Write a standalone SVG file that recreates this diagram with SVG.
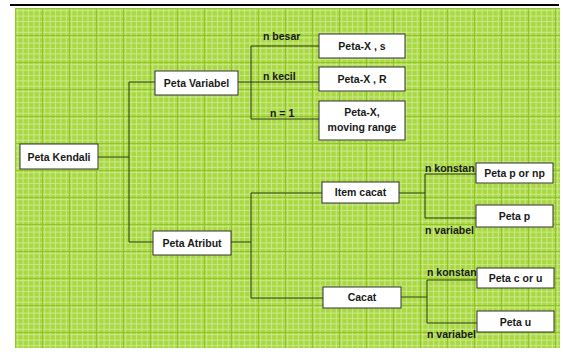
<svg xmlns="http://www.w3.org/2000/svg" width="563" height="354" viewBox="0 0 563 354">
<defs>
<pattern id="grid" x="15" y="8" width="27" height="27" patternUnits="userSpaceOnUse">
<rect width="27" height="27" fill="#a9d840"/>
<path d="M2.7 0V27M8.1 0V27M13.5 0V27M18.9 0V27M24.3 0V27M0 2.7H27M0 8.1H27M0 13.5H27M0 18.9H27M0 24.3H27" stroke="#c6e784" stroke-width="1.2" fill="none"/>
<path d="M0.5 0V27M0 0.5H27" stroke="#92c52a" stroke-width="1" fill="none"/>
</pattern>
<style>
.box{fill:#ffffff;stroke:#333333;stroke-width:1}
.t{font-family:"Liberation Sans",Arial,sans-serif;font-size:10.5px;font-weight:bold;fill:#1a1a1a;text-anchor:middle}
.l{font-family:"Liberation Sans",Arial,sans-serif;font-size:10.5px;font-weight:bold;fill:#1a1a1a}
.c{fill:none;stroke:#2a3a10;stroke-width:1}
</style>
</defs>
<rect x="0" y="0" width="563" height="354" fill="#ffffff"/>
<rect x="15" y="8" width="545" height="340" fill="url(#grid)"/>
<line x1="10" y1="5" x2="559" y2="5" stroke="#000000" stroke-width="2"/>
<g id="connectors">
<path class="c" d="M98 157H129M129 82V242M129 82H155M129 242H153"/>
<path class="c" d="M238 82H251M251 46V119M251 46H319M251 82H319M251 119H319"/>
<path class="c" d="M231 242H251M251 193V298M251 193H322M251 298H323"/>
<path class="c" d="M399 193H425M425 174V218M425 174H476M425 218H476"/>
<path class="c" d="M401 297H427M427 280V323M427 280H477M427 323H477"/>
</g>
<g id="labels">
<text class="l" x="263" y="40">n besar</text>
<text class="l" x="263" y="80">n kecil</text>
<text class="l" x="270" y="117">n = 1</text>
<text class="l" x="425" y="172">n konstan</text>
<text class="l" x="425" y="234">n variabel</text>
<text class="l" x="427" y="276">n konstan</text>
<text class="l" x="427" y="338">n variabel</text>
</g>
<g id="peta-kendali"><rect class="box" x="20" y="144" width="78" height="25"/><text class="t" x="59" y="160.5">Peta Kendali</text></g>
<g id="peta-variabel"><rect class="box" x="155" y="71" width="83" height="24"/><text class="t" x="196.5" y="86.5">Peta Variabel</text></g>
<g id="peta-atribut"><rect class="box" x="153" y="231" width="78" height="24"/><text class="t" x="192" y="246.5">Peta Atribut</text></g>
<g id="peta-x-s"><rect class="box" x="319" y="34" width="86" height="24"/><text class="t" x="362" y="49.5">Peta-X , s</text></g>
<g id="peta-x-r"><rect class="box" x="319" y="67" width="86" height="24"/><text class="t" x="362" y="82.5">Peta-X , R</text></g>
<g id="peta-x-mr"><rect class="box" x="319" y="101" width="86" height="39"/><text class="t" x="362" y="116">Peta-X,</text><text class="t" x="362" y="131">moving range</text></g>
<g id="item-cacat"><rect class="box" x="322" y="182" width="77" height="21"/><text class="t" x="360.5" y="196">Item cacat</text></g>
<g id="cacat"><rect class="box" x="323" y="287" width="78" height="21"/><text class="t" x="362" y="301">Cacat</text></g>
<g id="peta-p-np"><rect class="box" x="476" y="163" width="77" height="20"/><text class="t" x="514.5" y="177">Peta p or np</text></g>
<g id="peta-p"><rect class="box" x="476" y="205" width="77" height="22"/><text class="t" x="514.5" y="220">Peta p</text></g>
<g id="peta-c-u"><rect class="box" x="477" y="268" width="77" height="20"/><text class="t" x="515.5" y="282">Peta c or u</text></g>
<g id="peta-u"><rect class="box" x="477" y="311" width="77" height="21"/><text class="t" x="515.5" y="325.5">Peta u</text></g>
</svg>
